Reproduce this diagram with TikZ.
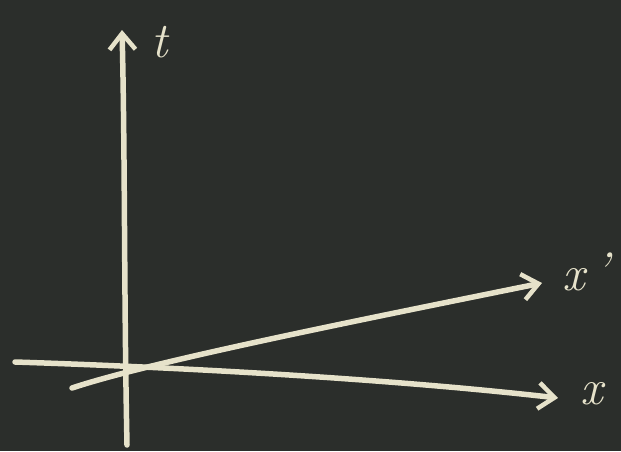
\documentclass[tikz,border=0pt]{standalone}
\usetikzlibrary{arrows.meta}
\definecolor{board}{HTML}{2B2E2B}
\definecolor{chalk}{HTML}{E6E2CA}
\tikzset{
  chalkline/.style={draw=chalk, line width=5.5pt, line cap=round, line join=round},
  chalkarrow/.style={chalkline, -{Straight Barb[length=16pt,width=26pt,line width=4.5pt]}},
  chalklabel/.style={text=chalk, inner sep=0pt, font=\fontsize{50}{50}\selectfont\itshape}
}
\begin{document}
\begin{tikzpicture}[x=1pt,y=-1pt]
  \fill[board] (0,0) rectangle (621,451);
  \useasboundingbox (0,0) rectangle (621,451);
  % axes end points
  \coordinate (tbot) at (127,445);
  \coordinate (ttop) at (122,30);
  \coordinate (xleft) at (15,362);
  \coordinate (xright) at (558,398);
  \coordinate (pleft) at (72,388);
  \coordinate (pright) at (542,283);
  \draw[chalkarrow] (tbot) .. controls (124,300) and (125,150) .. (ttop);
  \draw[chalkarrow] (xleft) .. controls (200,368) and (400,380) .. (xright);
  \draw[chalkarrow] (pleft) .. controls (150,362) and (350,322) .. (pright);
  \node[chalklabel] (tlab) at (160,42) {t};
  \node[chalklabel] (xlab) at (592,394) {x};
  \node[chalklabel] (xplab) at (574,280) {x};
  \node[chalklabel] (prime) at (602,270) {'};
\end{tikzpicture}
\end{document}
